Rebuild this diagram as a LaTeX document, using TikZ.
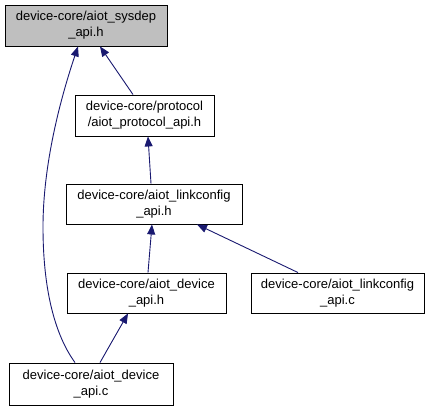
\documentclass[tikz,border=0pt]{standalone}
\usepackage{fontspec}
\setmainfont{Liberation Sans}
\usetikzlibrary{arrows.meta}
\definecolor{edgeblue}{HTML}{191970}
\definecolor{nodegray}{HTML}{BFBFBF}
\begin{document}
\begin{tikzpicture}[x=1pt,y=-1pt,
  box/.style={draw=black,line width=0.9pt,inner sep=0pt,align=center,
    font=\fontsize{13}{16}\selectfont},
  edge/.style={draw=edgeblue,line width=0.9pt,
    -{Triangle[length=10pt,width=8pt,fill=edgeblue]}}]
\useasboundingbox (0,0) rectangle (432,409);
\node[box,fill=nodegray,minimum width=162pt,minimum height=41pt] (n1) at (86,25.5) {device-core/aiot\_sysdep\\\_api.h};
\node[box,minimum width=139pt,minimum height=41pt] (n2) at (144.5,115.5) {device-core/protocol\\/aiot\_protocol\_api.h};
\node[box,minimum width=176pt,minimum height=40pt] (n3) at (154,204) {device-core/aiot\_linkconfig\\\_api.h};
\node[box,minimum width=159pt,minimum height=40pt] (n4) at (146.5,293) {device-core/aiot\_device\\\_api.h};
\node[box,minimum width=173pt,minimum height=40pt] (n5) at (337.5,293) {device-core/aiot\_linkconfig\\\_api.c};
\node[box,minimum width=164pt,minimum height=42pt] (n6) at (91,384) {device-core/aiot\_device\\\_api.c};
\draw[edge] ([xshift=-11.5pt]n2.north) -- ([xshift=14pt]n1.south);
\draw[edge] ([xshift=-16pt]n6.north) .. controls (55,335) and (43,290) .. (43,227) .. controls (43,165) and (60,100) .. ([xshift=-8pt]n1.south);
\draw[edge] ([xshift=-3pt]n3.north) -- ([xshift=3.5pt]n2.south);
\draw[edge] ([xshift=1.5pt]n4.north) -- ([xshift=-2pt]n3.south);
\draw[edge] ([xshift=-39.5pt]n5.north) -- ([xshift=43pt]n3.south);
\draw[edge] ([xshift=9pt]n6.north) -- ([xshift=-18.5pt]n4.south);
\end{tikzpicture}
\end{document}
